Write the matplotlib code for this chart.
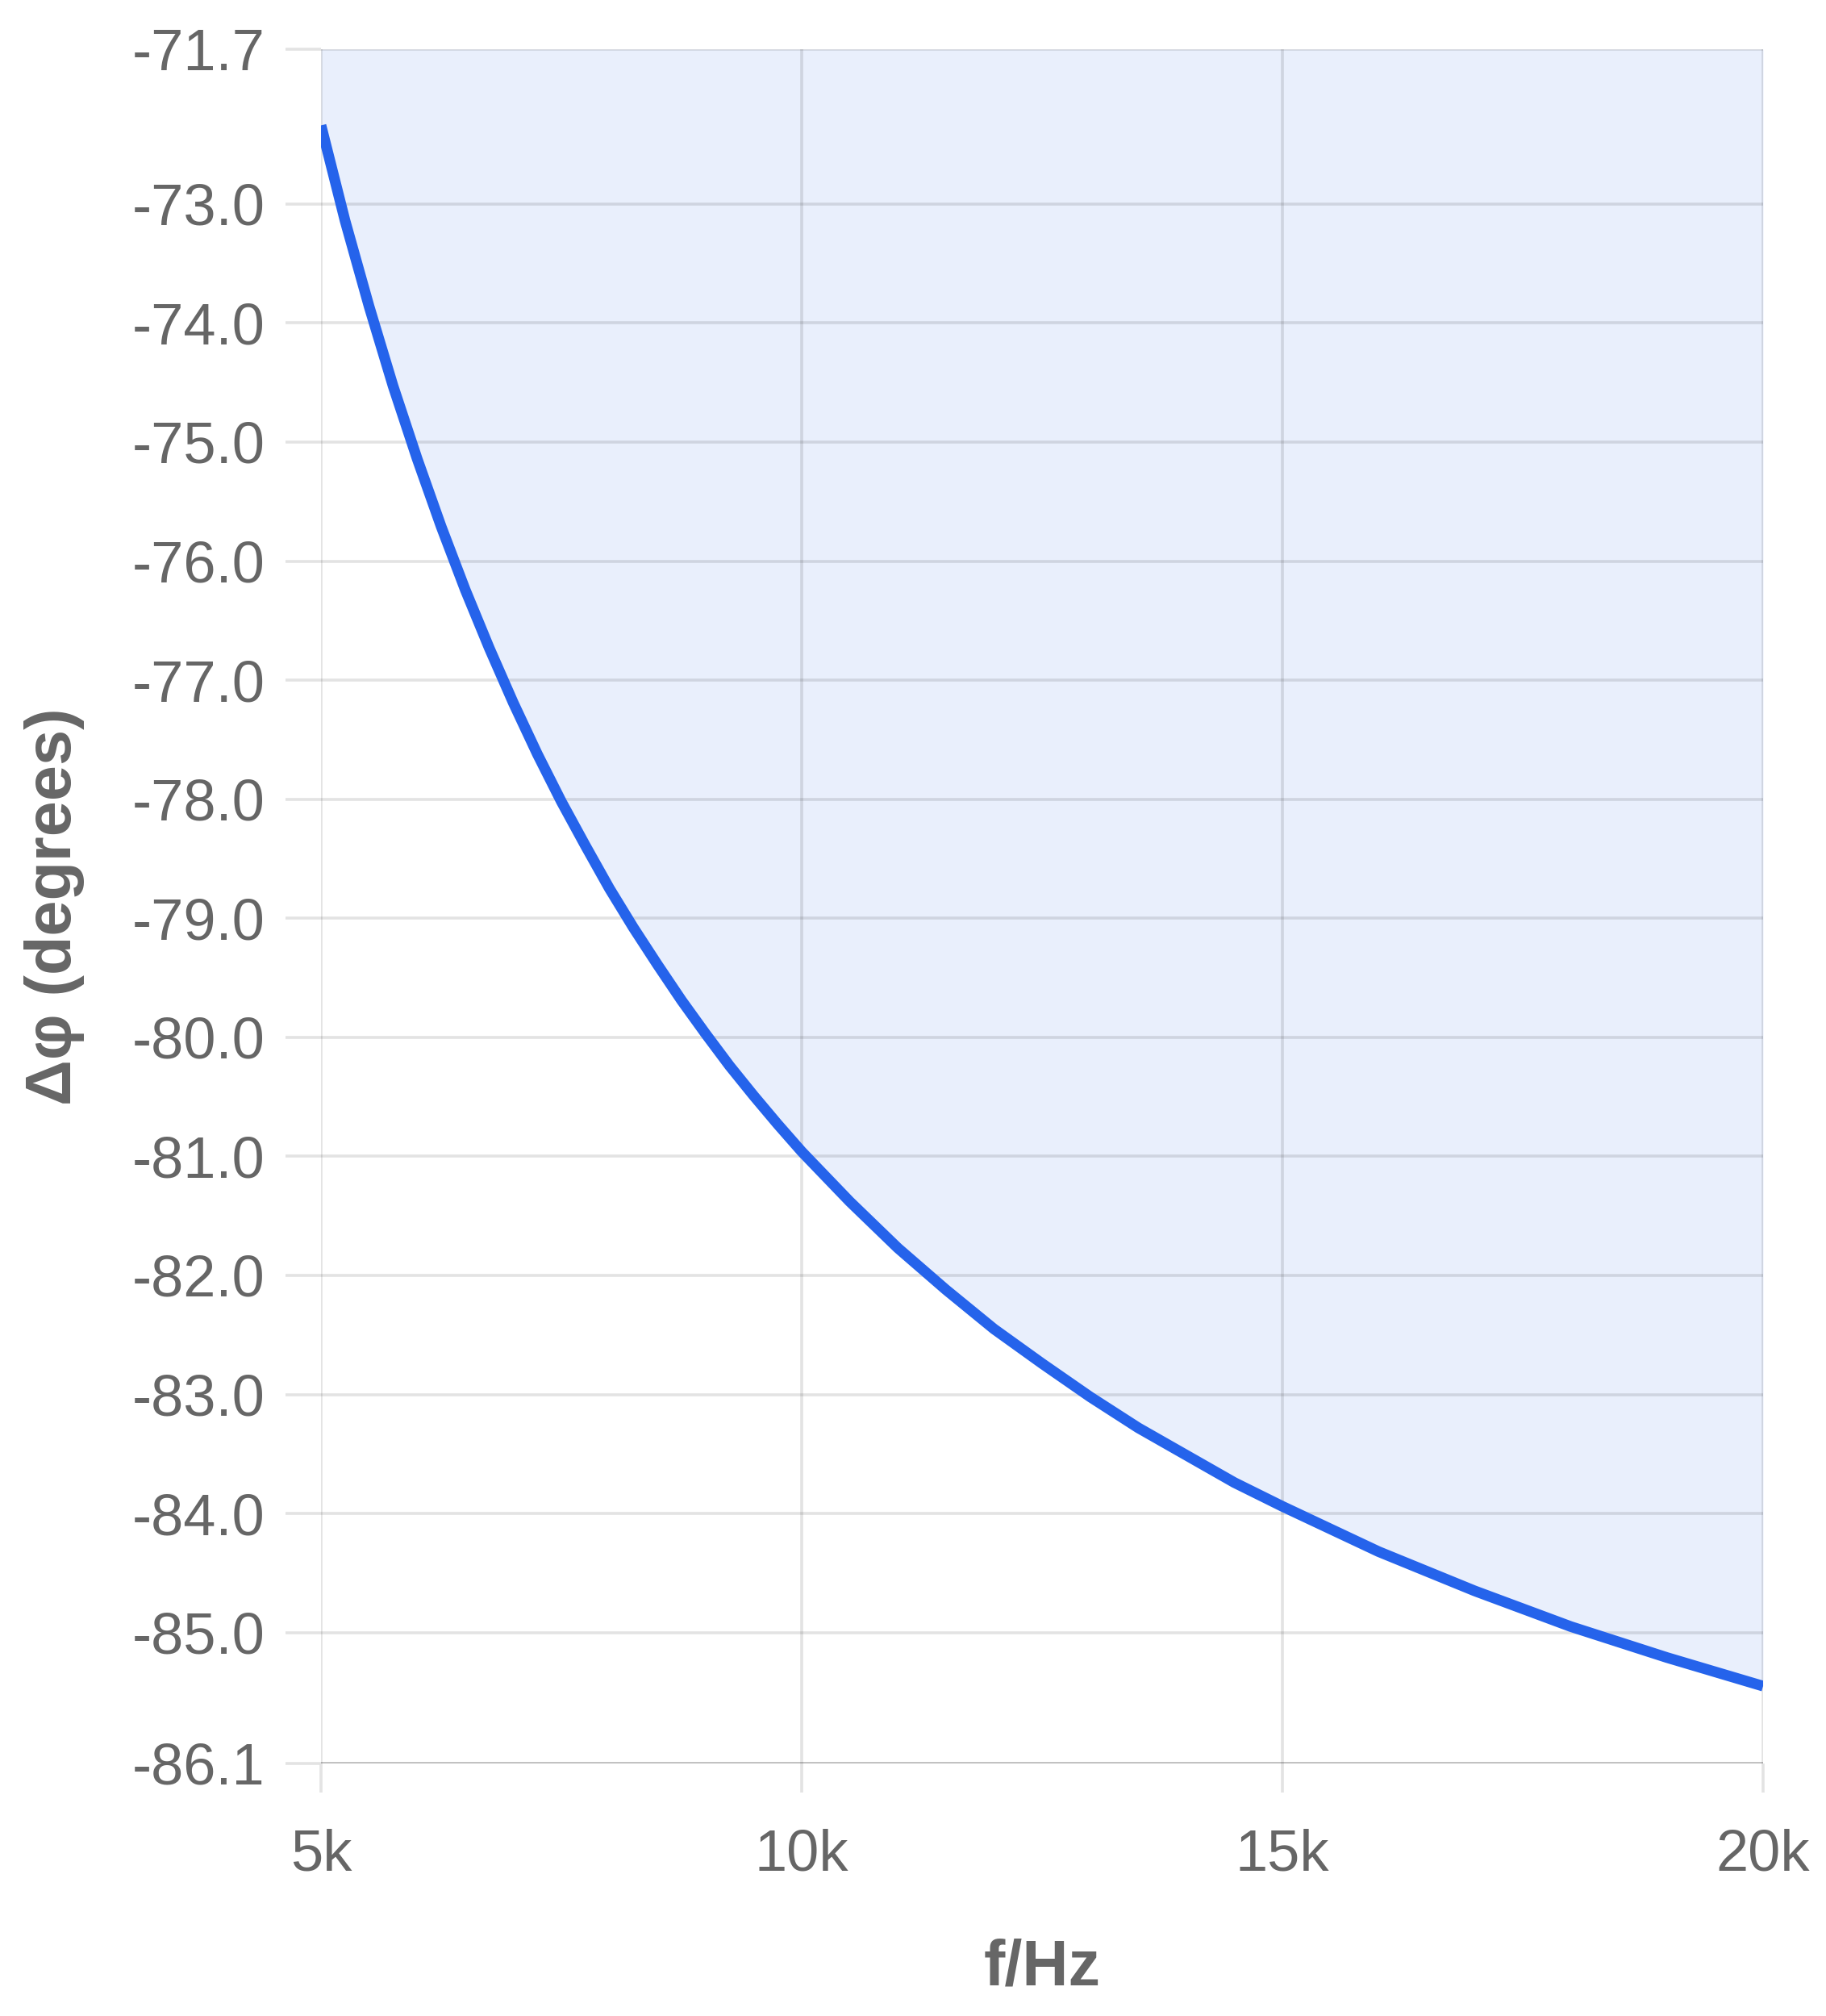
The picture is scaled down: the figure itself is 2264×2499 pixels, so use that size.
import matplotlib
matplotlib.use("Agg")
import matplotlib.pyplot as plt

# Data (frequency in Hz, phase shift in degrees)
freq_hz = [5000, 5250, 5500, 5750, 6000, 6250, 6500, 6750, 7000, 7250,
           7500, 7750, 8000, 8250, 8500, 8750, 9000, 9250, 9500, 9750,
           10000, 10500, 11000, 11500, 12000, 12500, 13000, 13500, 14000,
           14500, 15000, 16000, 17000, 18000, 19000, 20000]
phase_deg = [-72.34, -73.14, -73.86, -74.53, -75.14, -75.71, -76.24, -76.73,
             -77.19, -77.62, -78.02, -78.39, -78.75, -79.08, -79.39, -79.69,
             -79.97, -80.24, -80.49, -80.73, -80.96, -81.38, -81.77, -82.12,
             -82.45, -82.74, -83.02, -83.28, -83.51, -83.74, -83.94, -84.32,
             -84.65, -84.95, -85.21, -85.45]

y_ticks = [-71.7, -73.0, -74.0, -75.0, -76.0, -77.0, -78.0, -79.0, -80.0,
           -81.0, -82.0, -83.0, -84.0, -85.0, -86.1]
x_ticks = [5000, 10000, 15000, 20000]
x_tick_labels = ["5k", "10k", "15k", "20k"]

plt.rcParams['font.family'] = ['Liberation Sans', 'DejaVu Sans']

TEXT = "#666666"
TICK = "#e3e3e3"
LINE = "#2563eb"
FILL = "#e9effc"

fig = plt.figure(figsize=(22.64, 24.99), dpi=100)
ax = fig.add_axes([398 / 2264, 1 - 2186 / 2499, (2186 - 398) / 2264, (2186 - 61) / 2499])

ax.set_xlim(5000, 20000)
ax.set_ylim(-86.1, -71.7)

ax.fill_between(freq_hz, phase_deg, -71.7, color=FILL, lw=0, zorder=0.2)
ax.plot(freq_hz, phase_deg, color=LINE, lw=9.5, solid_capstyle='butt',
        solid_joinstyle='round', zorder=3)

ax.set_yticks(y_ticks)
ax.set_yticklabels([f"{v:.1f}" for v in y_ticks])
ax.set_xticks(x_ticks)
ax.set_xticklabels(x_tick_labels)

ax.set_axisbelow(True)
ax.grid(True, color='black', alpha=0.11, lw=2.6)
for s in ax.spines.values():
    s.set_visible(False)
ax.axhline(-86.1, color='black', alpha=0.16, lw=2.8, zorder=2)

ax.tick_params(axis='y', length=32, width=2.6, color=TICK, pad=18,
               labelsize=52, labelcolor=TEXT)
ax.tick_params(axis='x', length=26, width=2.6, color=TICK, pad=32,
               labelsize=52, labelcolor=TEXT)

ax.set_xlabel("f/Hz", fontsize=57, fontweight='bold', color=TEXT, labelpad=50)
ax.set_ylabel("Δφ (degrees)", fontsize=57, fontweight='bold', color=TEXT, labelpad=42)

fig.savefig("out.png", dpi=100, facecolor="white")
